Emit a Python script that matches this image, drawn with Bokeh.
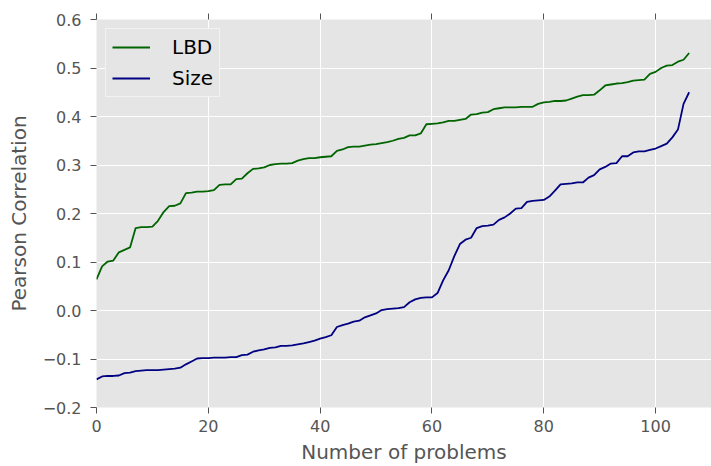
from bokeh.plotting import figure
from bokeh.models import (LinearAxis, FixedTicker, CustomJSTickFormatter,
                          Range1d, ColumnDataSource, Legend, LegendItem)
from bokeh.embed import file_html
from bokeh.resources import INLINE

# ---- data ----
problems = list(range(107))
lbd = [0.064, 0.091, 0.101, 0.103, 0.120, 0.125, 0.130, 0.170, 0.172, 0.172,
       0.173, 0.185, 0.203, 0.215, 0.216, 0.221, 0.242, 0.243, 0.245, 0.245,
       0.246, 0.248, 0.259, 0.260, 0.260, 0.271, 0.272, 0.283, 0.292, 0.293,
       0.295, 0.300, 0.302, 0.303, 0.303, 0.304, 0.309, 0.312, 0.314, 0.314,
       0.316, 0.317, 0.318, 0.329, 0.332, 0.337, 0.338, 0.338, 0.340, 0.342,
       0.343, 0.345, 0.347, 0.350, 0.354, 0.356, 0.361, 0.361, 0.365, 0.384,
       0.385, 0.386, 0.388, 0.391, 0.391, 0.393, 0.395, 0.404, 0.405, 0.408,
       0.409, 0.415, 0.417, 0.419, 0.419, 0.419, 0.420, 0.420, 0.420, 0.426,
       0.429, 0.430, 0.432, 0.432, 0.433, 0.437, 0.441, 0.444, 0.444, 0.445,
       0.454, 0.464, 0.466, 0.468, 0.469, 0.471, 0.474, 0.475, 0.476, 0.488,
       0.492, 0.500, 0.505, 0.506, 0.513, 0.517, 0.531]
size = [-0.142, -0.136, -0.135, -0.135, -0.134, -0.129, -0.128, -0.125, -0.124, -0.123,
        -0.123, -0.123, -0.122, -0.121, -0.120, -0.118, -0.111, -0.105, -0.099, -0.098,
        -0.098, -0.097, -0.097, -0.097, -0.096, -0.096, -0.092, -0.091, -0.085, -0.082,
        -0.080, -0.077, -0.076, -0.073, -0.073, -0.072, -0.070, -0.068, -0.065, -0.062,
        -0.058, -0.055, -0.051, -0.034, -0.030, -0.027, -0.023, -0.021, -0.014, -0.010,
        -0.006, 0.001, 0.003, 0.004, 0.005, 0.007, 0.017, 0.023, 0.026, 0.027,
        0.027, 0.036, 0.062, 0.083, 0.112, 0.137, 0.146, 0.150, 0.170, 0.174,
        0.175, 0.177, 0.187, 0.192, 0.200, 0.210, 0.211, 0.224, 0.226, 0.227,
        0.228, 0.235, 0.247, 0.260, 0.261, 0.262, 0.264, 0.264, 0.274, 0.279,
        0.291, 0.296, 0.303, 0.304, 0.318, 0.318, 0.326, 0.328, 0.328, 0.331,
        0.334, 0.339, 0.344, 0.357, 0.373, 0.426, 0.450]
series_names = ["LBD", "Size"]
series_colors = ["#006400", "#000080"]
x_ticks = [0, 20, 40, 60, 80, 100]
y_ticks = [-0.2, -0.1, 0.0, 0.1, 0.2, 0.3, 0.4, 0.5, 0.6]
x_label = "Number of problems"
y_label = "Pearson Correlation"

FONT = "DejaVu Sans"
GRAY = "#555555"
BG = "#E5E5E5"

p = figure(width=711, height=466, output_backend="svg", toolbar_location=None,
           x_range=Range1d(0, 110), y_range=Range1d(-0.2, 0.6),
           min_border_left=96, min_border_right=0, min_border_top=19,
           min_border_bottom=58, x_axis_location=None, y_axis_location=None)
p.background_fill_color = BG
p.border_fill_color = "white"
p.outline_line_color = None

src = ColumnDataSource(dict(x=problems, lbd=lbd, size=size))
r1 = p.line("x", "lbd", source=src, line_color=series_colors[0], line_width=1.8)
r2 = p.line("x", "size", source=src, line_color=series_colors[1], line_width=1.8)

fmt = CustomJSTickFormatter(code="""
const v = Math.abs(tick) < 1e-9 ? 0 : tick;
return v.toFixed(1).replace('-', '\u2212');
""")

def style_axis(ax):
    ax.axis_line_color = None
    ax.major_tick_line_color = GRAY
    ax.major_tick_line_width = 1
    ax.major_tick_out = 6
    ax.major_tick_in = 0
    ax.minor_tick_line_color = None
    ax.major_label_text_font = FONT
    ax.major_label_text_font_size = "16px"
    ax.major_label_text_color = GRAY
    ax.axis_label_text_font = FONT
    ax.axis_label_text_font_size = "20px"
    ax.axis_label_text_color = GRAY
    ax.axis_label_text_font_style = "normal"

xt = FixedTicker(ticks=x_ticks)
yt = FixedTicker(ticks=y_ticks)

xax = LinearAxis(ticker=xt, axis_label=x_label)
style_axis(xax)
xax.major_label_standoff = 6
xax.axis_label_standoff = 5
p.add_layout(xax, "below")

yax = LinearAxis(ticker=yt, axis_label=y_label, formatter=fmt)
style_axis(yax)
yax.major_label_standoff = 9
yax.axis_label_standoff = 9
p.add_layout(yax, "left")

tax = LinearAxis(ticker=xt, formatter=CustomJSTickFormatter(code="return '';"))
style_axis(tax)
tax.major_label_text_font_size = "0px"
tax.major_label_standoff = 0
p.add_layout(tax, "above")

p.xgrid.ticker = xt
p.ygrid.ticker = yt
p.grid.grid_line_color = "white"
p.grid.grid_line_width = 1

legend = Legend(items=[LegendItem(label=series_names[0], renderers=[r1]),
                       LegendItem(label=series_names[1], renderers=[r2])],
                location="top_left")
legend.margin = 9
legend.padding = 6
legend.spacing = 7
legend.glyph_width = 38
legend.glyph_height = 20
legend.label_height = 20
legend.label_standoff = 22
legend.label_text_font = FONT
legend.label_text_font_size = "20px"
legend.label_text_color = "black"
legend.background_fill_color = BG
legend.background_fill_alpha = 1
legend.border_line_color = "white"
legend.border_line_width = 1
p.add_layout(legend, "center")

open("out.html", "w").write(file_html(p, INLINE))
